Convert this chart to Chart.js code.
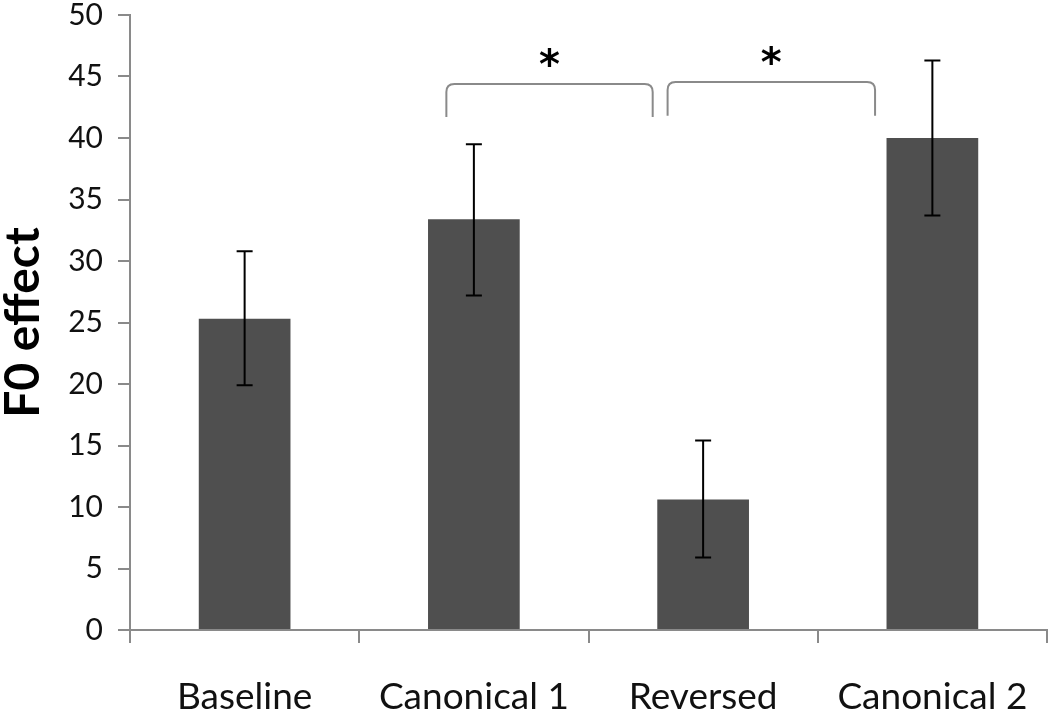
<!DOCTYPE html>
<html>
<head>
<meta charset="utf-8">
<script src="https://cdn.jsdelivr.net/npm/chart.js@4/dist/chart.umd.min.js"></script>
<style>
  html, body { margin: 0; padding: 0; background: #fff; }
  #wrap { width: 1050px; height: 711px; }
</style>
</head>
<body>
<div id="wrap"><canvas id="c" width="1050" height="711"></canvas></div>
<script>
const categories = ['Baseline', 'Canonical 1', 'Reversed', 'Canonical 2'];
const f0Effect   = [25.3, 33.4, 10.6, 40.0];
const errLow     = [19.9, 27.2, 5.9, 33.7];
const errHigh    = [30.8, 39.5, 15.4, 46.3];
const yTicks     = [0, 5, 10, 15, 20, 25, 30, 35, 40, 45, 50];
// significance brackets: from category, to category, shifts (fraction of category), level (value), ends (value)
const bracketFrom   = [1, 2];
const bracketTo     = [2, 3];
const bracketFromDx = [-0.12, -0.155];
const bracketToDx   = [-0.22, -0.25];
const bracketTop    = [44.4, 44.55];
const bracketEnd    = [41.7, 41.8];
const bracketLabel  = ['*', '*'];

const AXIS = '#8a8a8a';

const errorBars = {
  id: 'errorBars',
  afterDatasetsDraw(chart) {
    const { ctx, scales: { x, y } } = chart;
    ctx.save();
    ctx.strokeStyle = '#000';
    ctx.lineWidth = 2;
    errLow.forEach((lo, i) => {
      const px = x.getPixelForValue(i);
      const yl = y.getPixelForValue(lo), yh = y.getPixelForValue(errHigh[i]);
      ctx.beginPath();
      ctx.moveTo(px, yl); ctx.lineTo(px, yh);
      ctx.moveTo(px - 8, yl); ctx.lineTo(px + 8, yl);
      ctx.moveTo(px - 8, yh); ctx.lineTo(px + 8, yh);
      ctx.stroke();
    });
    ctx.restore();
  }
};

const brackets = {
  id: 'brackets',
  afterDraw(chart) {
    const { ctx, scales: { x, y } } = chart;
    const cw = x.getPixelForValue(1) - x.getPixelForValue(0);
    ctx.save();
    bracketFrom.forEach((f, i) => {
      const x1 = x.getPixelForValue(f) + bracketFromDx[i] * cw;
      const x2 = x.getPixelForValue(bracketTo[i]) + bracketToDx[i] * cw;
      const yt = y.getPixelForValue(bracketTop[i]);
      const ye = y.getPixelForValue(bracketEnd[i]);
      const r = 8;
      ctx.strokeStyle = AXIS;
      ctx.lineWidth = 2;
      ctx.beginPath();
      ctx.moveTo(x1, ye);
      ctx.lineTo(x1, yt + r);
      ctx.quadraticCurveTo(x1, yt, x1 + r, yt);
      ctx.lineTo(x2 - r, yt);
      ctx.quadraticCurveTo(x2, yt, x2, yt + r);
      ctx.lineTo(x2, ye);
      ctx.stroke();
      ctx.fillStyle = '#000';
      ctx.font = 'bold 40px "DejaVu Sans"';
      ctx.textAlign = 'center';
      ctx.textBaseline = 'middle';
      ctx.fillText(bracketLabel[i], (x1 + x2) / 2, yt - 16);
    });
    ctx.restore();
  }
};

new Chart(document.getElementById('c'), {
  type: 'bar',
  data: {
    labels: categories,
    datasets: [{
      data: f0Effect,
      backgroundColor: '#4f4f4f',
      borderWidth: 0,
      categoryPercentage: 0.4,
      barPercentage: 1.0
    }]
  },
  options: {
    responsive: false,
    animation: false,
    events: [],
    layout: { padding: { top: 15, right: 3, left: 0, bottom: 0 } },
    plugins: { legend: { display: false }, tooltip: { enabled: false } },
    scales: {
      x: {
        afterFit(s) { s.height = 81; s.paddingLeft = 0; s.paddingRight = 0; },
        border: { display: true, color: AXIS, width: 2 },
        grid: { offset: true, drawOnChartArea: false, drawTicks: true, tickLength: 13, color: AXIS, lineWidth: 2 },
        ticks: { color: '#111', font: { family: 'Lato', size: 37 }, padding: 32, maxRotation: 0 }
      },
      y: {
        min: 0, max: 50,
        afterFit(s) { s.width = 130; s.paddingTop = 0; s.paddingBottom = 0; },
        afterBuildTicks(s) { s.ticks = yTicks.map(v => ({ value: v })); },
        border: { display: true, color: AXIS, width: 2 },
        grid: { drawOnChartArea: false, drawTicks: true, tickLength: 12, color: AXIS, lineWidth: 2 },
        ticks: { color: '#111', font: { family: 'Lato', size: 30, lineHeight: 1 }, padding: 15 },
        title: {
          display: true, text: 'F0 effect', color: '#000',
          font: { family: 'Lato', size: 48, weight: 'bold', lineHeight: 1 },
          padding: { top: 0, bottom: 0 }
        }
      }
    }
  },
  plugins: [errorBars, brackets]
});
</script>
</body>
</html>
